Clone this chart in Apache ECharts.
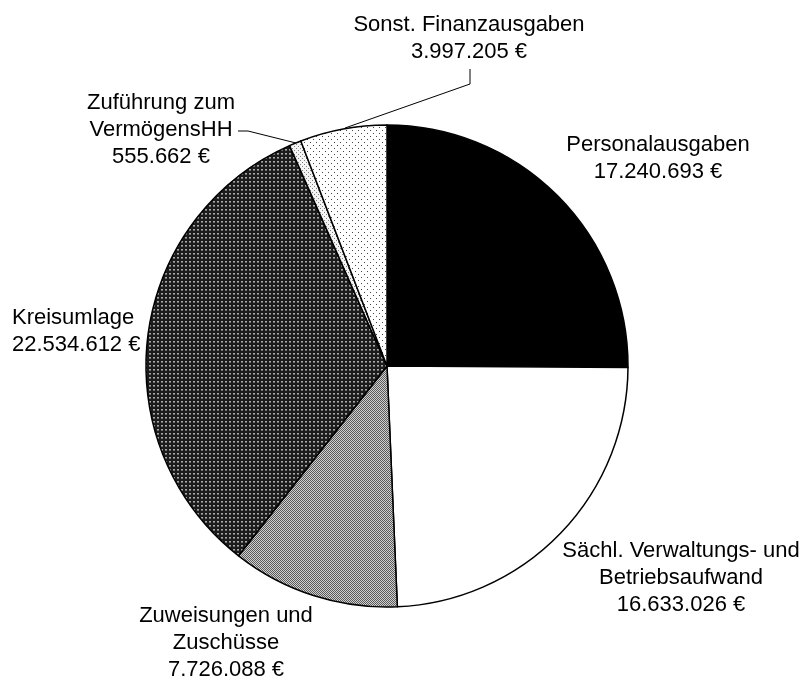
<!DOCTYPE html>
<html>
<head>
<meta charset="utf-8">
<script src="https://cdn.jsdelivr.net/npm/echarts@6/dist/echarts.min.js"></script>
<style>
html,body{margin:0;padding:0;background:#fff;}
#chart{width:809px;height:680px;}
</style>
</head>
<body>
<div id="chart"></div>
<script>
const categories = ['Personalausgaben', 'Sächl. Verwaltungs- und\nBetriebsaufwand', 'Zuweisungen und\nZuschüsse', 'Kreisumlage', 'Zuführung zum\nVermögensHH', 'Sonst. Finanzausgaben'];
const values = [17240693, 16633026, 7726088, 22534612, 555662, 3997205];

// label placement (layout only)
const labelPos = [
  {x: 658, y: 158, align: 'center'},
  {x: 681, y: 578, align: 'center'},
  {x: 226, y: 643, align: 'center'},
  {x: 12, y: 331, align: 'left'},
  {x: 161, y: 130, align: 'center', line: [[296, 143], [248, 131], [238, 131]]},
  {x: 469, y: 38, align: 'center', line: [[345, 128], [470, 84], [470, 69]]}
];

function tile(w, h, bg, pts) {
  const c = document.createElement('canvas');
  c.width = w; c.height = h;
  const ctx = c.getContext('2d');
  ctx.fillStyle = bg; ctx.fillRect(0, 0, w, h);
  pts.forEach(p => { ctx.fillStyle = p[2]; ctx.fillRect(p[0], p[1], p[3] || 1, p[4] || 1); });
  return {image: c, repeat: 'repeat'};
}
const fills = [
  '#000000',
  '#ffffff',
  tile(2, 2, '#d0d0d0', [[0, 0, '#5a5a5a'], [1, 1, '#5a5a5a']]),
  tile(4, 4, '#1c1c1c', [[1, 1, '#a8a8a8', 2, 1], [1, 2, '#707070', 2, 1]]),
  tile(4, 4, '#f4f4f4', [[0, 0, '#808080'], [2, 2, '#808080']]),
  tile(6, 6, '#ffffff', [[1, 1, '#444444'], [4, 4, '#444444']])
];

function fmt(v) {
  return String(v).replace(/\B(?=(\d{3})+(?!\d))/g, '.') + ' €';
}

const data = categories.map((n, i) => ({
  name: n,
  value: values[i],
  itemStyle: {color: fills[i]},
  labelLine: {show: !!labelPos[i].line}
}));

const chart = echarts.init(document.getElementById('chart'), null, {renderer: 'canvas'});
chart.setOption({
  animation: false,
  backgroundColor: '#ffffff',
  series: [{
    type: 'pie',
    center: [387, 366],
    radius: [0, 241],
    startAngle: 90,
    clockwise: true,
    avoidLabelOverlap: false,
    data: data,
    itemStyle: {borderColor: '#000', borderWidth: 1.5},
    label: {
      show: true,
      color: '#000',
      fontFamily: '"Liberation Sans", Arial, sans-serif',
      fontSize: 22,
      lineHeight: 27,
      formatter: p => p.name + '\n' + fmt(p.value)
    },
    labelLine: {show: true, lineStyle: {color: '#000', width: 1}},
    labelLayout: function (params) {
      const p = labelPos[params.dataIndex];
      const o = {x: p.x, y: p.y, align: p.align, verticalAlign: 'middle'};
      if (p.line) o.labelLinePoints = p.line;
      return o;
    },
    emphasis: {disabled: true}
  }]
});
</script>
</body>
</html>
